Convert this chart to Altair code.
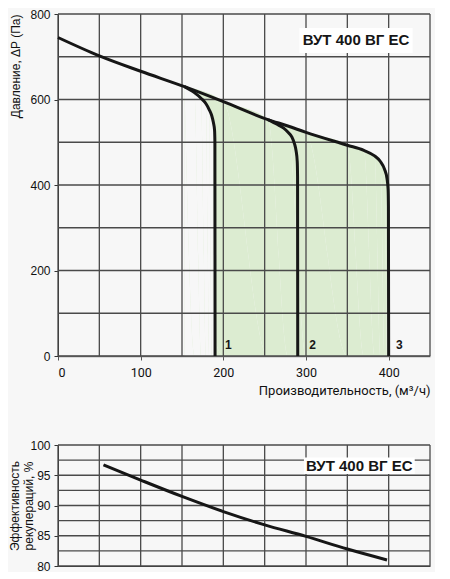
import altair as alt
import pandas as pd

# ---- top chart: pressure vs airflow ----
main_x = [0, 50, 100, 153, 200, 254, 278, 300, 350, 370, 383, 390, 395, 398, 399.3, 399.7, 400]
main_y = [745, 702, 666, 630, 595, 553, 538, 523, 493, 481, 468, 455, 437, 415, 390, 350, 0]
c1_x = [153, 165, 173, 179, 183, 186, 188, 189.4, 189.8, 190]
c1_y = [630, 616, 603, 590, 576, 562, 546, 528, 500, 0]
c2_x = [254, 266, 273, 278, 283, 286, 288, 289.4, 289.8, 290]
c2_y = [553, 541, 533, 524, 512, 497, 480, 455, 420, 0]

num_text = ["1", "2", "3"]
num_x = [206, 308, 413]
num_y = [25, 25, 25]

x_domain = [0, 450]
top_y_domain = [0, 800]
top_gx = [0, 50, 100, 150, 200, 250, 300, 350, 400, 450]
top_gy = [0, 100, 200, 300, 400, 500, 600, 700, 800]
top_xticks = [0, 100, 200, 300, 400]
top_yticks = [0, 200, 400, 600, 800]

model = "ВУТ 400 ВГ ЕС"
top_box = dict(x1=[292], x2=[429], y1=[767], y2=[709], tx=[360.5], ty=[739])

# ---- bottom chart: recuperation efficiency ----
eff_x = [55, 100, 150, 200, 250, 300, 350, 398]
eff_y = [96.7, 94.2, 91.5, 89.0, 86.8, 84.9, 82.8, 81.0]
bot_y_domain = [80, 100]
bot_gy = [80, 82.5, 85, 87.5, 90, 92.5, 95, 97.5, 100]
bot_yticks = [80, 85, 90, 95, 100]
bot_box = dict(x1=[297.5], x2=[431.5], y1=[97.95], y2=[95.2], tx=[364.5], ty=[96.6])

BG = "#f7f7f7"
GREEN = "#dcecd1"
GRID = "#4a4a4a"
INK = "#161616"


def curve_df(xs, ys):
    return pd.DataFrame({"x": xs, "y": ys, "i": list(range(len(xs)))})


main_df = curve_df(main_x, main_y)
c1_df = curve_df(c1_x, c1_y)
c2_df = curve_df(c2_x, c2_y)

xs_top = alt.Scale(domain=x_domain, nice=False, zero=False, padding=0)
ys_top = alt.Scale(domain=top_y_domain, nice=False, zero=False, padding=0)

ax_top_x = alt.Axis(values=top_xticks, grid=False, tickSize=4, tickColor="#555",
                    domainColor="#777", domainWidth=1.5,
                    labelFont="Roboto", labelFontSize=12.5, labelColor="#111", labelPadding=6,
                    title="Производительность, (м³/ч)", titleFont="Roboto", titleFontSize=13,
                    titleFontWeight="normal", titleColor="#111", titleAnchor="end", titlePadding=6)
ax_top_y = alt.Axis(values=top_yticks, grid=False, tickSize=4, tickColor="#333",
                    domainColor="#333", domainWidth=1,
                    labelFont="Liberation Sans", labelFontSize=12, labelColor="#111", labelPadding=4,
                    title="Давление, ΔP (Па)", titleFont="Liberation Sans", titleFontSize=12,
                    titleFontWeight="normal", titleColor="#111", titleAnchor="end", titlePadding=7)

ys_bot = alt.Scale(domain=bot_y_domain, nice=False, zero=False, padding=0)
ax_bot_x = alt.Axis(labels=False, ticks=False, grid=False, domainColor="#333", title=None)
ax_bot_y = alt.Axis(values=bot_yticks, grid=False, tickSize=4, tickColor="#333",
                    domainColor="#333", labelFont="Liberation Sans", labelFontSize=12,
                    labelColor="#111", labelPadding=4,
                    title=["Эффективность", "рекупераций, %"], titleFont="Liberation Sans",
                    titleFontSize=12, titleFontWeight="normal", titleColor="#111",
                    titleLineHeight=14.5, titlePadding=-6)


def enc(ax_x, ax_y, sy, fx="x", fy="y"):
    return dict(x=alt.X(f"{fx}:Q", scale=xs_top, axis=ax_x),
                y=alt.Y(f"{fy}:Q", scale=sy, axis=ax_y))


T = dict(ax_x=ax_top_x, ax_y=ax_top_y, sy=ys_top)
B = dict(ax_x=ax_bot_x, ax_y=ax_bot_y, sy=ys_bot)


def grid_layers(gx, gy, xdom, ydom, P):
    vdf = pd.DataFrame({"x": gx, "y": [ydom[0]] * len(gx), "y2": [ydom[1]] * len(gx)})
    hdf = pd.DataFrame({"y": gy, "x": [xdom[0]] * len(gy), "x2": [xdom[1]] * len(gy)})
    v = alt.Chart(vdf).mark_rule(color=GRID, strokeWidth=1.3).encode(**enc(**P), y2="y2:Q")
    h = alt.Chart(hdf).mark_rule(color=GRID, strokeWidth=1.3).encode(**enc(**P), x2="x2:Q")
    return [v, h]


green = alt.Chart(main_df).transform_filter("datum.x >= 153").mark_area(
    color=GREEN, interpolate="monotone").encode(**enc(**T), order="i:Q")
mask = alt.Chart(c1_df).mark_area(color=BG, interpolate="monotone").encode(
    **enc(**T), order="i:Q")
tb = pd.DataFrame(top_box)
box = alt.Chart(tb).mark_rect(color="white").encode(
    **enc(**T, fx="x1", fy="y1"), x2="x2:Q", y2="y2:Q")
boxt = alt.Chart(tb.assign(t=model)).mark_text(
    font="Liberation Sans", fontSize=15, fontWeight="bold", color=INK).encode(
    **enc(**T, fx="tx", fy="ty"), text="t:N")
lines = [alt.Chart(d).mark_line(color=INK, strokeWidth=3, interpolate="monotone").encode(
    **enc(**T), order="i:Q") for d in (main_df, c1_df, c2_df)]
nums = alt.Chart(pd.DataFrame({"x": num_x, "y": num_y, "t": num_text})).mark_text(
    font="Liberation Sans", fontSize=12, fontWeight="bold", color=INK).encode(
    **enc(**T), text="t:N")

top = alt.layer(green, mask, *grid_layers(top_gx, top_gy, x_domain, top_y_domain, T),
                box, boxt, *lines, nums).properties(width=372, height=342)

bb = pd.DataFrame(bot_box)
bbox = alt.Chart(bb).mark_rect(color="white").encode(
    **enc(**B, fx="x1", fy="y1"), x2="x2:Q", y2="y2:Q")
bboxt = alt.Chart(bb.assign(t=model)).mark_text(
    font="Liberation Sans", fontSize=15, fontWeight="bold", color=INK).encode(
    **enc(**B, fx="tx", fy="ty"), text="t:N")
eff = alt.Chart(curve_df(eff_x, eff_y)).mark_line(
    color=INK, strokeWidth=3, interpolate="monotone").encode(**enc(**B), order="i:Q")

bottom = alt.layer(*grid_layers(top_gx, bot_gy, x_domain, bot_y_domain, B),
                   bbox, bboxt, eff).properties(width=372, height=121)

chart = alt.vconcat(top, bottom, spacing=41).properties(
    background=BG, padding={"left": 0, "top": 0, "right": 4, "bottom": 0}
).configure_view(strokeWidth=0)

chart.save("out.html", embed_options={"renderer": "svg", "actions": False})
